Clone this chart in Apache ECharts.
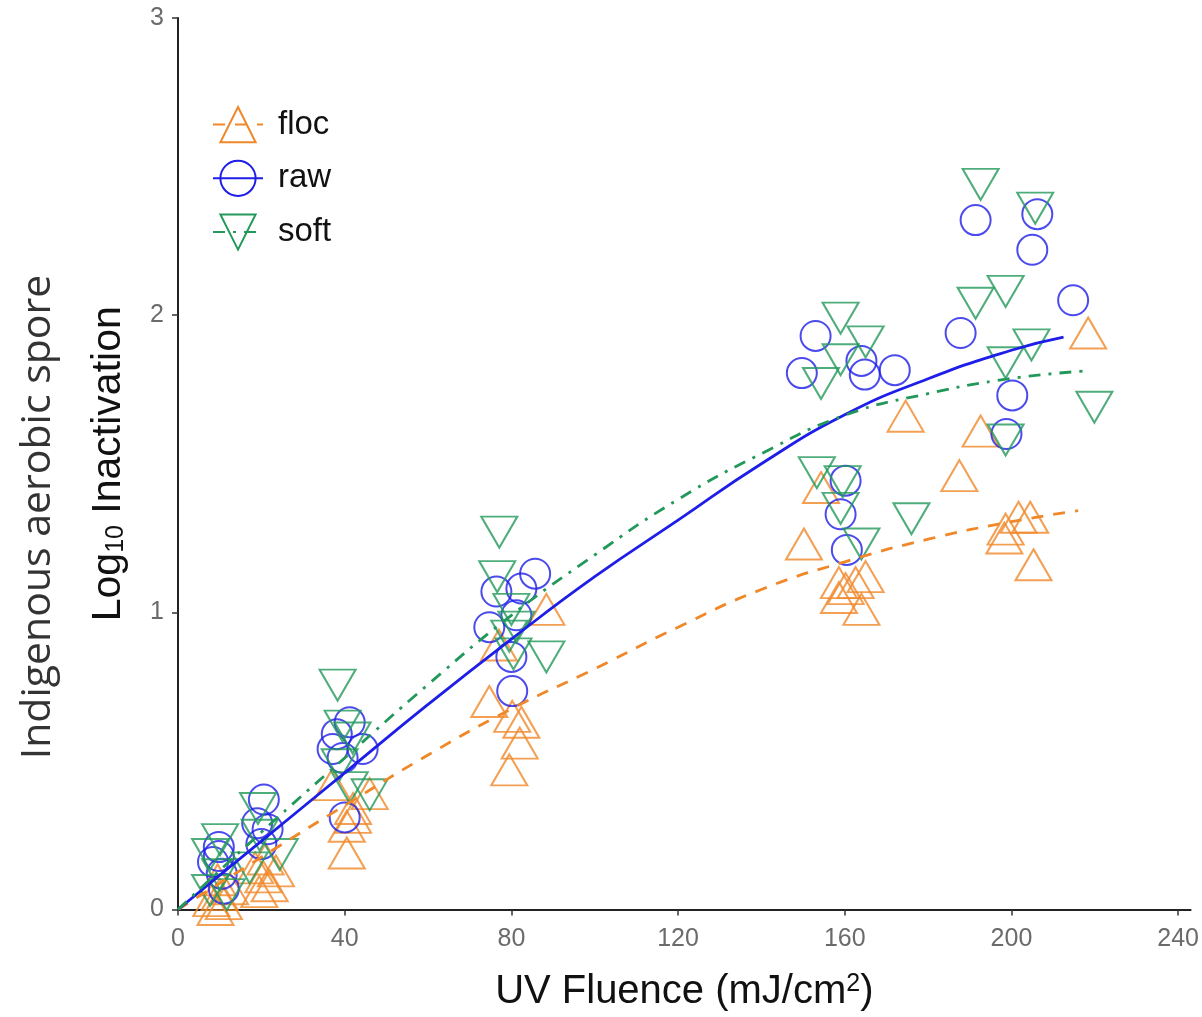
<!DOCTYPE html>
<html>
<head>
<meta charset="utf-8">
<script src="https://cdn.jsdelivr.net/npm/echarts@6/dist/echarts.min.js"></script>
<style>
  html, body { margin: 0; padding: 0; background: #fff; }
  #chart { width: 1202px; height: 1017px; }
</style>
</head>
<body>
<div id="chart"></div>
<script>
// tick labels
var xTicks = [0, 40, 80, 120, 160, 200, 240];
var groupNames = ['floc', 'raw', 'soft'];

// measured points [UV fluence, log10 inactivation]
var flocPoints = [
    [8, 0.03], [9.5, 0.10], [10, 0.05], [11, 0.02], [12.5, 0.07], [9, 0.0],
    [18.5, 0.14], [19.5, 0.06], [21, 0.17], [22, 0.08], [23.5, 0.13], [20.5, 0.11],
    [37, 0.42], [40.5, 0.19], [40.5, 0.28], [42, 0.31], [42, 0.34], [46, 0.39],
    [74.7, 0.70], [77, 0.89], [80.2, 0.65], [82.4, 0.63], [82, 0.56], [79.5, 0.47], [88.4, 1.01],
    [150.2, 1.23], [154.3, 1.42], [158.6, 1.10], [158.6, 1.05], [160.2, 1.08], [162.6, 1.10], [165, 1.12], [164, 1.01],
    [174.6, 1.66], [187.5, 1.46], [192.6, 1.61], [198.6, 1.28], [201.7, 1.32], [204.5, 1.32], [198.3, 1.25], [205.3, 1.16], [218.4, 1.94]
];
var rawPoints = [
    [9.8, 0.21], [9.8, 0.18], [8.4, 0.16], [10.5, 0.12], [11, 0.07],
    [20.6, 0.37], [19, 0.29], [21.5, 0.27], [20, 0.22],
    [41.2, 0.63], [38.1, 0.59], [44.3, 0.54], [37.1, 0.54], [39.5, 0.51], [40, 0.31],
    [85.7, 1.13], [76.4, 1.07], [82.4, 1.08], [74.7, 0.95], [81.2, 0.99], [80, 0.85], [80.2, 0.735],
    [153, 1.93], [149.7, 1.805], [164, 1.846], [164.8, 1.80], [172, 1.815], [160.2, 1.443], [159, 1.33], [160.5, 1.21],
    [187.8, 1.94], [191.4, 2.32], [206.2, 2.34], [205, 2.22], [214.8, 2.05], [200.2, 1.73], [198.8, 1.60]
];
var softPoints = [
    [10.1, 0.235], [7.7, 0.185], [10.1, 0.117], [11.7, 0.05], [7.7, 0.064],
    [19.2, 0.34], [19.6, 0.25], [24.4, 0.185], [17.2, 0.14],
    [38.3, 0.755], [39.5, 0.617], [41.9, 0.577], [38.8, 0.487], [41.2, 0.41], [46, 0.386],
    [77.1, 1.27], [76.6, 1.12], [80, 1.01], [81.2, 0.95], [88.4, 0.85], [79.5, 0.92], [80.5, 0.86],
    [159, 1.99], [165, 1.91], [159, 1.85], [154.3, 1.77], [153.3, 1.47], [159.5, 1.44], [159, 1.35], [164, 1.23], [176, 1.315],
    [192.6, 2.44], [205.7, 2.36], [191.4, 2.04], [198.6, 2.08], [204.8, 1.90], [198.6, 1.84], [219.9, 1.69], [198.6, 1.58]
];

// fitted curves
var flocFitX = [0, 20, 40, 60, 80, 100, 120, 140, 160, 180, 200, 216];
var flocFitY = [0, 0.176, 0.35, 0.52, 0.675, 0.81, 0.95, 1.077, 1.17, 1.246, 1.305, 1.342];
var rawFitX = [0, 20, 40, 60, 80, 100, 120, 140, 160, 180, 200, 212.5];
var rawFitY = [0, 0.23, 0.46, 0.69, 0.91, 1.12, 1.31, 1.50, 1.665, 1.786, 1.882, 1.926];
var softFitX = [0, 20, 40, 60, 80, 100, 120, 140, 160, 180, 200, 217.7];
var softFitY = [0, 0.26, 0.51, 0.757, 0.99, 1.193, 1.38, 1.534, 1.663, 1.736, 1.787, 1.812];

var colors = { floc: '#f0882a', raw: '#1e1ee8', soft: '#22985a' };
var downTri = 'path://M0,0L2,0L1,1.73Z';
var font = 'Liberation Sans';

function zip(xs, ys) {
    var out = [];
    for (var i = 0; i < xs.length; i++) out.push([xs[i], ys[i]]);
    return out;
}

var myChart = echarts.init(document.getElementById('chart'));

var hollow = function (c) {
    return { color: 'rgba(0,0,0,0)', borderColor: c, borderWidth: 2 };
};

var option = {
    animation: false,
    grid: { left: 178, right: 10, top: 18, bottom: 105 },
    legend: {
        data: groupNames,
        orient: 'vertical',
        left: 207,
        top: 101,
        itemWidth: 50,
        itemHeight: 44,
        itemGap: 16.5,
        textStyle: { fontFamily: font, fontSize: 33, color: '#111', padding: [0, 0, 0, 10] }
    },
    xAxis: {
        type: 'value',
        min: 0,
        max: 243,
        interval: 40,
        name: 'UV Fluence (mJ/cm{sup|2})',
        nameLocation: 'middle',
        nameGap: 62,
        nameTextStyle: {
            fontFamily: font, fontSize: 40, color: '#111',
            rich: { sup: { fontSize: 25, verticalAlign: 'top', padding: [0, 0, 16, 0], fontFamily: font, color: '#111' } }
        },
        axisLine: { lineStyle: { color: '#222', width: 2 } },
        axisTick: { length: 6, lineStyle: { color: '#333', width: 1.5 }, customValues: xTicks },
        axisLabel: { customValues: xTicks, margin: 17, fontFamily: font, fontSize: 25, color: '#6b6b6b' },
        splitLine: { show: false }
    },
    yAxis: {
        type: 'value',
        min: 0,
        max: 3,
        interval: 1,
        name: 'Log{sub|10} Inactivation',
        nameLocation: 'middle',
        nameGap: 49,
        nameRotate: 90,
        nameTextStyle: {
            fontFamily: font, fontSize: 41, color: '#111',
            rich: { sub: { fontSize: 25, verticalAlign: 'bottom', padding: [14, 0, 0, 0], fontFamily: font, color: '#111' } }
        },
        axisLine: { show: true, lineStyle: { color: '#222', width: 2 } },
        axisTick: { show: true, length: 6, lineStyle: { color: '#333', width: 1.5 } },
        axisLabel: { margin: 14, fontFamily: font, fontSize: 25, color: '#6b6b6b' },
        splitLine: { show: false }
    },
    graphic: [{
        type: 'text',
        x: 38,
        y: 517,
        rotation: Math.PI / 2,
        style: {
            text: 'Indigenous aerobic spore',
            fontFamily: 'Open Sans',
            fontSize: 41,
            fill: '#333',
            align: 'center',
            verticalAlign: 'middle'
        }
    }],
    series: [
        {
            name: 'floc', type: 'line', smooth: true, showSymbol: false,
            symbol: 'triangle', symbolSize: [36, 31],
            itemStyle: hollow(colors.floc),
            lineStyle: { color: colors.floc, width: 2.8, type: [12, 10] },
            data: zip(flocFitX, flocFitY), z: 3
        },
        {
            name: 'raw', type: 'line', smooth: true, showSymbol: false,
            symbol: 'circle', symbolSize: 30,
            itemStyle: hollow(colors.raw),
            lineStyle: { color: colors.raw, width: 2.8 },
            data: zip(rawFitX, rawFitY), z: 3
        },
        {
            name: 'soft', type: 'line', smooth: true, showSymbol: false,
            symbol: downTri, symbolSize: [36, 31],
            itemStyle: hollow(colors.soft),
            lineStyle: { color: colors.soft, width: 2.8, type: [12, 8, 3, 8] },
            data: zip(softFitX, softFitY), z: 3
        },
        {
            name: 'floc', type: 'scatter', symbol: 'triangle', symbolSize: [36, 31],
            itemStyle: hollow(colors.floc), data: flocPoints, z: 2
        },
        {
            name: 'raw', type: 'scatter', symbol: 'circle', symbolSize: 30,
            itemStyle: hollow(colors.raw), data: rawPoints, z: 2
        },
        {
            name: 'soft', type: 'scatter', symbol: downTri, symbolSize: [36, 31],
            itemStyle: hollow(colors.soft), data: softPoints, z: 2
        }
    ]
};

myChart.setOption(option);
</script>
</body>
</html>
